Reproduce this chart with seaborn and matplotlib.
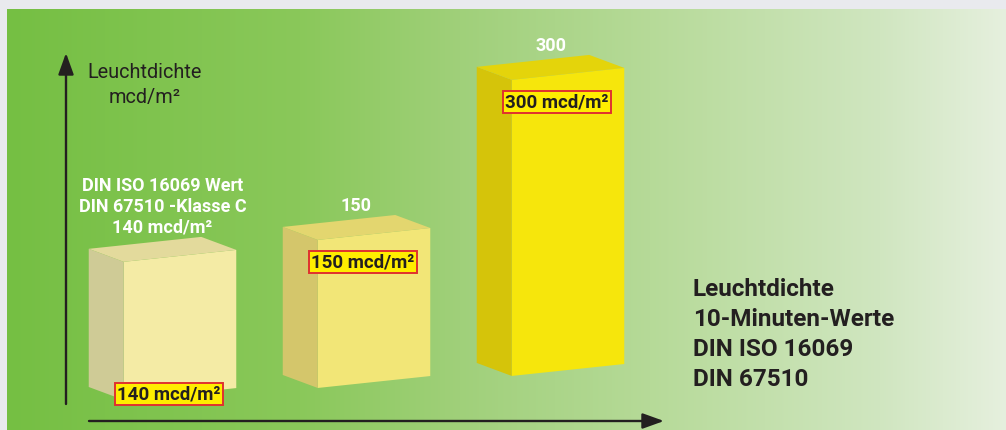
import numpy as np
import pandas as pd
import matplotlib
matplotlib.use("Agg")
import matplotlib.pyplot as plt
import seaborn as sns
from matplotlib.patches import Polygon
from matplotlib.transforms import Affine2D, IdentityTransform

# ---------------- data ----------------
categories = ["140 mcd/m²", "150 mcd/m²", "300 mcd/m²"]
values = [140, 150, 300]
top_labels = ["DIN ISO 16069 Wert\nDIN 67510 -Klasse C\n140 mcd/m²", "150", "300"]
front_colors = ["#f4eba5", "#f2e677", "#f6e60c"]
side_colors = ["#cfcb96", "#d4c66b", "#d5c40a"]
top_colors = ["#e3da9c", "#e3d66f", "#e4d40b"]
legend_lines = ["Leuchtdichte", "10-Minuten-Werte", "DIN ISO 16069", "DIN 67510"]
y_title = ["Leuchtdichte", "mcd/m²"]

# ---------------- style ----------------
sns.set_theme(style="white")
plt.rcParams["font.family"] = ["Roboto", "DejaVu Sans"]
DARK = "#231f20"

W, H = 1006, 430
fig = plt.figure(figsize=(W / 100, H / 100), dpi=100)
fig.patch.set_facecolor("#e9eaee")

# background panel with gradient
ax_bg = fig.add_axes([0, 0, 1, 1], zorder=0)
stops_x = [7, 300, 460, 650, 880, 1006]
stops_c = np.array([(117, 191, 67), (138, 200, 90), (160, 208, 122),
                    (182, 218, 152), (208, 230, 192), (230, 240, 222)]) / 255.0
xs = np.arange(7, W) + 0.5
grad = np.stack([np.interp(xs, stops_x, stops_c[:, k]) for k in range(3)], axis=-1)[None, :, :]
ax_bg.imshow(grad, extent=(7, W, H, 9), aspect="auto", interpolation="bilinear")
ax_bg.set_xlim(0, W)
ax_bg.set_ylim(H, 0)
ax_bg.axis("off")

arrow_kw = dict(arrowstyle="-|>,head_length=1.0,head_width=0.36", color=DARK,
                lw=1.7, mutation_scale=13, shrinkA=0, shrinkB=0)
ax_bg.annotate("", xy=(66, 53), xytext=(66, 404), arrowprops=arrow_kw)
ax_bg.annotate("", xy=(664, 421), xytext=(89, 421), arrowprops=arrow_kw)

ax_bg.text(145, 73, y_title[0], ha="center", va="center", fontsize=14.3, color=DARK)
ax_bg.text(145, 97, y_title[1], ha="center", va="center", fontsize=14.3, color=DARK)
for j, line in enumerate(legend_lines):
    ax_bg.text(693, 289 + 30.3 * j, line, ha="left", va="center", fontsize=17.5,
               fontweight="bold", color=DARK)

# ---------------- bars ----------------
ax = fig.add_axes([0, 0, 1, 1], zorder=1)
ax.patch.set_alpha(0)
df = pd.DataFrame({"cat": categories, "value": values})
sns.barplot(data=df, x="cat", y="value", hue="cat", palette=front_colors,
            width=0.58, saturation=1, legend=False, ax=ax, edgecolor="none")

k = 0.987          # pixels per mcd/m²
base_px = 30       # baseline height in pixels
step = 194         # pixels between categories
first = 180        # pixel centre of first category
ax.set_xlim(-first / step, (W - first) / step)
ax.set_ylim(-base_px / k, (H - base_px) / k)
ax.axis("off")

s_g, s_l = 0.062, 0.106
D = np.array([-35.0, 13.0])
bars = sorted(ax.patches, key=lambda p: p.get_x())
X0 = ax.transData.transform((bars[0].get_x(), 0))[0]

for i, p in enumerate(bars):
    xl, w, h, y0 = p.get_x(), p.get_width(), p.get_height(), p.get_y()
    xl_d = ax.transData.transform((xl, 0))[0]
    shear = Affine2D.from_values(1, s_l, 0, 1, 0, -s_l * xl_d + s_g * (xl_d - X0))
    T = ax.transData + shear
    p.set_transform(T)
    p.set_clip_on(False)
    FLB = T.transform((xl, y0))
    FLT = T.transform((xl, y0 + h))
    FRT = T.transform((xl + w, y0 + h))
    FRB = T.transform((xl + w, y0))
    side = Polygon([FLB, FLT, FLT + D, FLB + D], closed=True, transform=IdentityTransform(),
                   facecolor=side_colors[i], edgecolor="none", clip_on=False, zorder=1)
    top = Polygon([FLT, FRT, FRT + D, FLT + D], closed=True, transform=IdentityTransform(),
                  facecolor=top_colors[i], edgecolor="none", clip_on=False, zorder=1)
    ax.add_patch(side)
    ax.add_patch(top)

    # value box
    xc = (FLT[0] + FRT[0]) / 2 - 11
    frac = (xc - FLT[0]) / (FRT[0] - FLT[0])
    if i == 0:
        yc = FLB[1] + (FRB[1] - FLB[1]) * frac + 1
    else:
        yc = FLT[1] + (FRT[1] - FLT[1]) * frac - 27
    ax.text(xc, yc, categories[i], transform=IdentityTransform(), ha="center", va="center",
            fontsize=13.5, fontweight="bold", color=DARK, zorder=5,
            bbox=dict(boxstyle="square,pad=0.12", fc="#ffed00", ec="#e0312f", lw=1.4))

    # label above box
    tx = (FLT[0] + D[0] + FRT[0]) / 2
    ty = FRT[1] + D[1]
    ax.text(tx, ty, top_labels[i], transform=IdentityTransform(), ha="center", va="bottom",
            fontsize=13, fontweight="bold", color="white", linespacing=1.2, zorder=5,
            multialignment="center")

ax.set_xlim(-first / step, (W - first) / step)
ax.set_ylim(-base_px / k, (H - base_px) / k)

fig.savefig("out.png", dpi=100, facecolor=fig.get_facecolor())
